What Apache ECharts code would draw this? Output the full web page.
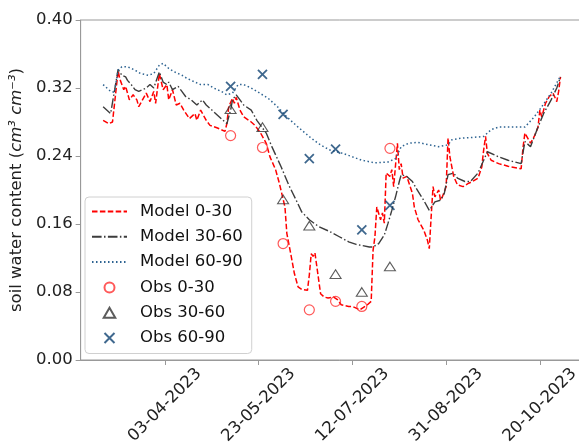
<!DOCTYPE html>
<html><head><meta charset="utf-8">
<script src="https://cdn.jsdelivr.net/npm/echarts@6/dist/echarts.min.js"></script>
<style>html,body{margin:0;padding:0;background:#fff;overflow:hidden}#c{width:600px;height:448px}</style>
</head><body><div id="c"></div>
<script>
// ---- data ----
const model030Dates = ['2023-03-01','2023-03-04','2023-03-06','2023-03-09','2023-03-10','2023-03-12','2023-03-13','2023-03-15','2023-03-17','2023-03-19','2023-03-20','2023-03-22','2023-03-24','2023-03-26','2023-03-28','2023-03-29','2023-03-31','2023-04-02','2023-04-04','2023-04-05','2023-04-07','2023-04-09','2023-04-11','2023-04-13','2023-04-16','2023-04-19','2023-04-20','2023-04-22','2023-04-25','2023-04-27','2023-05-01','2023-05-05','2023-05-06','2023-05-07','2023-05-09','2023-05-10','2023-05-11','2023-05-13','2023-05-15','2023-05-19','2023-05-21','2023-05-24','2023-05-27','2023-05-29','2023-06-01','2023-06-03','2023-06-06','2023-06-07','2023-06-09','2023-06-11','2023-06-13','2023-06-15','2023-06-18','2023-06-19','2023-06-20','2023-06-21','2023-06-22','2023-06-24','2023-06-25','2023-06-27','2023-06-29','2023-07-02','2023-07-04','2023-07-06','2023-07-10','2023-07-12','2023-07-16','2023-07-20','2023-07-22','2023-07-23','2023-07-24','2023-07-25','2023-07-27','2023-07-28','2023-07-29','2023-07-30','2023-08-01','2023-08-02','2023-08-03','2023-08-05','2023-08-06','2023-08-07','2023-08-08','2023-08-10','2023-08-13','2023-08-14','2023-08-16','2023-08-19','2023-08-21','2023-08-22','2023-08-23','2023-08-24','2023-08-25','2023-08-27','2023-08-28','2023-08-29','2023-08-31','2023-09-01','2023-09-02','2023-09-04','2023-09-06','2023-09-09','2023-09-12','2023-09-14','2023-09-17','2023-09-19','2023-09-20','2023-09-21','2023-09-22','2023-09-24','2023-09-28','2023-10-03','2023-10-10','2023-10-11','2023-10-12','2023-10-14','2023-10-15','2023-10-17','2023-10-19','2023-10-20','2023-10-21','2023-10-23','2023-10-25','2023-10-27','2023-10-29','2023-10-30','2023-10-31'];
const model030 = [0.282,0.278,0.280,0.340,0.330,0.318,0.322,0.306,0.312,0.306,0.298,0.306,0.314,0.304,0.316,0.302,0.337,0.318,0.324,0.306,0.318,0.300,0.302,0.294,0.284,0.290,0.282,0.294,0.282,0.276,0.273,0.269,0.278,0.298,0.308,0.302,0.309,0.294,0.286,0.280,0.276,0.267,0.255,0.239,0.224,0.208,0.180,0.149,0.126,0.102,0.086,0.083,0.082,0.100,0.125,0.122,0.126,0.094,0.078,0.074,0.073,0.074,0.071,0.065,0.063,0.063,0.059,0.065,0.069,0.129,0.145,0.180,0.165,0.173,0.161,0.220,0.216,0.224,0.204,0.255,0.224,0.231,0.214,0.216,0.196,0.180,0.165,0.153,0.141,0.131,0.169,0.204,0.192,0.200,0.188,0.192,0.204,0.261,0.239,0.216,0.206,0.204,0.208,0.210,0.214,0.227,0.247,0.263,0.243,0.235,0.231,0.228,0.225,0.250,0.267,0.259,0.255,0.263,0.274,0.294,0.286,0.302,0.310,0.314,0.304,0.316,0.333];

const model3060Dates = ['2023-03-01','2023-03-05','2023-03-09','2023-03-11','2023-03-13','2023-03-14','2023-03-16','2023-03-18','2023-03-20','2023-03-21','2023-03-24','2023-03-26','2023-03-28','2023-03-29','2023-03-31','2023-04-02','2023-04-04','2023-04-05','2023-04-07','2023-04-10','2023-04-12','2023-04-14','2023-04-17','2023-04-20','2023-04-23','2023-04-25','2023-04-28','2023-05-01','2023-05-04','2023-05-06','2023-05-08','2023-05-09','2023-05-11','2023-05-13','2023-05-15','2023-05-19','2023-05-22','2023-05-27','2023-05-30','2023-06-04','2023-06-08','2023-06-12','2023-06-15','2023-06-19','2023-06-24','2023-06-30','2023-07-05','2023-07-10','2023-07-14','2023-07-21','2023-07-23','2023-07-26','2023-07-29','2023-07-31','2023-08-02','2023-08-04','2023-08-06','2023-08-07','2023-08-10','2023-08-13','2023-08-15','2023-08-19','2023-08-22','2023-08-25','2023-08-28','2023-08-30','2023-09-01','2023-09-04','2023-09-06','2023-09-10','2023-09-13','2023-09-17','2023-09-22','2023-09-28','2023-10-03','2023-10-10','2023-10-12','2023-10-15','2023-10-19','2023-10-22','2023-10-26','2023-10-29','2023-10-31'];
const model3060 = [0.298,0.290,0.342,0.335,0.333,0.329,0.324,0.318,0.316,0.318,0.320,0.324,0.320,0.322,0.339,0.327,0.324,0.327,0.318,0.322,0.316,0.310,0.306,0.300,0.306,0.300,0.294,0.288,0.282,0.278,0.294,0.306,0.312,0.306,0.300,0.294,0.282,0.267,0.251,0.227,0.206,0.188,0.174,0.165,0.157,0.151,0.145,0.139,0.136,0.133,0.133,0.137,0.147,0.161,0.176,0.192,0.210,0.218,0.216,0.210,0.202,0.188,0.176,0.186,0.188,0.196,0.218,0.220,0.214,0.210,0.210,0.220,0.245,0.239,0.235,0.231,0.257,0.251,0.274,0.290,0.306,0.320,0.333];

const model6090Dates = ['2023-03-01','2023-03-05','2023-03-07','2023-03-09','2023-03-11','2023-03-14','2023-03-18','2023-03-21','2023-03-25','2023-03-28','2023-03-31','2023-04-02','2023-04-05','2023-04-08','2023-04-12','2023-04-15','2023-04-19','2023-04-22','2023-04-26','2023-04-29','2023-05-03','2023-05-06','2023-05-09','2023-05-12','2023-05-15','2023-05-19','2023-05-22','2023-05-28','2023-06-02','2023-06-07','2023-06-13','2023-06-20','2023-06-25','2023-06-30','2023-07-07','2023-07-12','2023-07-17','2023-07-24','2023-07-31','2023-08-04','2023-08-07','2023-08-11','2023-08-16','2023-08-22','2023-08-27','2023-09-01','2023-09-03','2023-09-08','2023-09-15','2023-09-20','2023-09-24','2023-09-28','2023-10-05','2023-10-12','2023-10-17','2023-10-21','2023-10-26','2023-10-31'];
const model6090 = [0.324,0.316,0.315,0.341,0.345,0.345,0.341,0.337,0.335,0.337,0.347,0.349,0.343,0.339,0.335,0.331,0.327,0.324,0.324,0.320,0.316,0.312,0.314,0.324,0.324,0.320,0.316,0.308,0.298,0.286,0.274,0.261,0.253,0.247,0.243,0.239,0.235,0.232,0.233,0.237,0.251,0.255,0.256,0.253,0.251,0.253,0.259,0.261,0.262,0.263,0.271,0.274,0.274,0.274,0.286,0.298,0.314,0.334];

const obsDates = ['2023-05-08','2023-05-25','2023-06-05','2023-06-19','2023-07-03','2023-07-17','2023-08-01'];
const obs030 = [0.264,0.250,0.137,0.059,0.069,0.063,0.249];
const obs3060 = [0.295,0.274,0.189,0.158,0.101,0.080,0.110];
const obs6090 = [0.322,0.336,0.289,0.237,0.248,0.153,0.182];

const tickDates = ['2023-04-03','2023-05-23','2023-07-12','2023-08-31','2023-10-20'];
const tickLabels = ['03-04-2023','23-05-2023','12-07-2023','31-08-2023','20-10-2023'];
const axisStart = '2023-02-17';

// ---- helpers ----
function dayNum(s){const p=s.split('-');return Date.UTC(+p[0],+p[1]-1,+p[2])/864e5;}
function pairs(d,v){return d.map((s,i)=>[dayNum(s),v[i]]);}
const tickVals = tickDates.map(dayNum);
const xMin = dayNum(axisStart);
const xMax = xMin + 276;

const FONT = 'DejaVu Sans';
const FS = 16.5;
const AX = '#999';
const TRI = 'path://M5,0L10,8.66L0,8.66Z';
const XMARK = 'path://M0,0L10,10M10,0L0,10';

const chart = echarts.init(document.getElementById('c'), null, {renderer:'canvas'});
chart.setOption({
  animation:false,
  backgroundColor:'#fff',
  grid:{left:77, top:20, width:521, height:340, show:true, borderColor:AX, borderWidth:1, backgroundColor:'transparent'},
  xAxis:{
    type:'value', min:xMin, max:xMax,
    axisLine:{show:true, lineStyle:{color:AX, width:1}},
    axisTick:{show:true, inside:false, length:5, lineStyle:{color:AX}, customValues:tickVals},
    axisLabel:{show:true, customValues:tickVals, rotate:45, align:'center', verticalAlign:'middle', margin:45,
      fontFamily:FONT, fontSize:FS, color:'#222',
      formatter:function(v){const i=tickVals.indexOf(v);return i>=0?tickLabels[i]:'';}},
    splitLine:{show:false}
  },
  yAxis:{
    type:'value', min:0, max:0.4, interval:0.08,
    axisLine:{show:true, lineStyle:{color:AX, width:1}},
    axisTick:{show:true, inside:false, length:5, lineStyle:{color:AX}},
    axisLabel:{fontFamily:FONT, fontSize:FS, color:'#222', margin:8, formatter:v=>v.toFixed(2)},
    splitLine:{show:false},
    name:'soil water content ({i|cm³ cm⁻³})', nameLocation:'middle', nameGap:47, nameRotate:90,
    nameTextStyle:{fontFamily:FONT, fontSize:FS, color:'#222', rich:{i:{fontFamily:FONT, fontSize:FS, fontStyle:'italic', color:'#222'}}}
  },
  legend:{
    orient:'vertical', left:85, top:197, padding:[6,9,7,6],
    itemWidth:35, itemHeight:10, itemGap:8.3,
    textStyle:{fontFamily:FONT, fontSize:FS, color:'#111', padding:[0,0,0,8]},
    backgroundColor:'rgba(255,255,255,0.85)', borderColor:'#d0d0d0', borderWidth:1, borderRadius:4,
    data:['Model 0-30','Model 30-60','Model 60-90','Obs 0-30','Obs 30-60','Obs 60-90']
  },
  series:[
    {name:'Model 0-30', type:'line', data:pairs(model030Dates, model030), symbol:'none', showSymbol:false,
      lineStyle:{color:'#ff0000', width:1.5, type:[5.5,2.4]}, itemStyle:{color:'#ff0000', opacity:0}, z:2},
    {name:'Model 30-60', type:'line', data:pairs(model3060Dates, model3060), symbol:'none', showSymbol:false,
      lineStyle:{color:'#3c3c3c', width:1.4, type:[9.6,2.4,1.5,2.4]}, itemStyle:{color:'#3c3c3c', opacity:0}, z:2},
    {name:'Model 60-90', type:'line', data:pairs(model6090Dates, model6090), symbol:'none', showSymbol:false,
      lineStyle:{color:'#2d6391', width:1.5, type:[1.5,2.5]}, itemStyle:{color:'#2d6391', opacity:0}, z:2},
    {name:'Obs 0-30', type:'scatter', data:pairs(obsDates, obs030), symbol:'circle', symbolSize:10,
      itemStyle:{color:'none', borderColor:'#ff3030', borderWidth:1.2}, z:3},
    {name:'Obs 30-60', type:'scatter', data:pairs(obsDates, obs3060), symbol:TRI, symbolSize:[11,10], symbolKeepAspect:true,
      itemStyle:{color:'none', borderColor:'#333', borderWidth:1.1}, z:3},
    {name:'Obs 60-90', type:'scatter', data:pairs(obsDates, obs6090), symbol:XMARK, symbolSize:9, symbolKeepAspect:true,
      itemStyle:{color:'none', borderColor:'#0f4272', borderWidth:1.8}, z:3}
  ]
});
</script></body></html>
